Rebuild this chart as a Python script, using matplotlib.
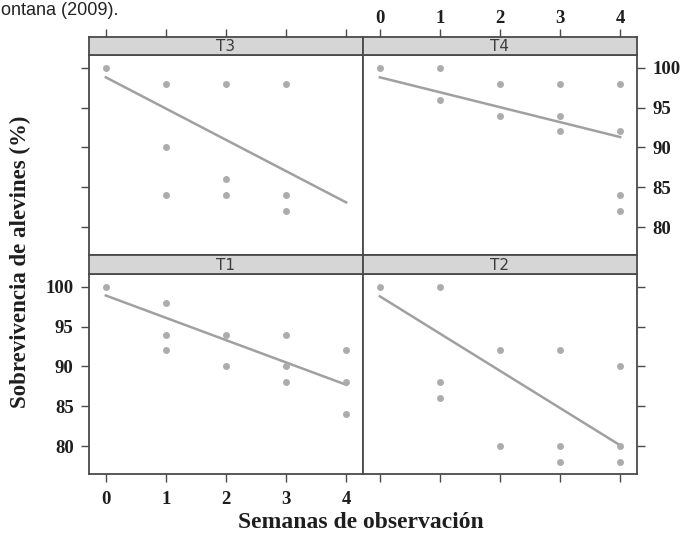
import matplotlib
matplotlib.use('Agg')
import matplotlib.pyplot as plt

plt.rcParams['font.family'] = ['Liberation Serif', 'DejaVu Serif']
plt.rcParams['font.weight'] = 'bold'

# ---- data ----
week_ticks = [0, 1, 2, 3, 4]
surv_ticks = [80, 85, 90, 95, 100]

t1_weeks = [0, 1, 1, 1, 2, 2, 3, 3, 3, 4, 4, 4]
t1_vals = [100, 98, 94, 92, 94, 90, 94, 90, 88, 92, 88, 84]
t2_weeks = [0, 1, 1, 1, 2, 2, 3, 3, 3, 4, 4, 4]
t2_vals = [100, 100, 88, 86, 92, 80, 92, 80, 78, 90, 80, 78]
t3_weeks = [0, 1, 1, 1, 2, 2, 2, 3, 3, 3]
t3_vals = [100, 98, 90, 84, 98, 86, 84, 98, 84, 82]
t4_weeks = [0, 1, 1, 2, 2, 3, 3, 3, 4, 4, 4, 4]
t4_vals = [100, 100, 96, 98, 94, 98, 94, 92, 98, 92, 84, 82]

fit_weeks = [0, 4]
t1_fit = [98.9, 87.7]
t2_fit = [98.8, 80.1]
t3_fit = [98.8, 83.1]
t4_fit = [98.8, 91.3]

W, H = 682, 535
fig = plt.figure(figsize=(W / 100, H / 100), dpi=100)
fig.patch.set_facecolor('white')

edge = '#4a4a4a'
XLIM = (-0.28, 4.28)

def fx(px):
    return px / W

def fy(py):
    return 1 - py / H

cols = [(89, 363), (363, 637)]
rows = [(55, 255, 37), (274, 474, 255)]  # panel top, panel bottom, strip top

layout = [
    ('T3', t3_weeks, t3_vals, t3_fit, 0, 0),
    ('T4', t4_weeks, t4_vals, t4_fit, 0, 1),
    ('T1', t1_weeks, t1_vals, t1_fit, 1, 0),
    ('T2', t2_weeks, t2_vals, t2_fit, 1, 1),
]

for name, wk, vals, fit, r, c in layout:
    x0, x1 = cols[c]
    ptop, pbot, stop = rows[r]
    ax = fig.add_axes([fx(x0), fy(pbot), fx(x1 - x0), (pbot - ptop) / H])
    ax.plot(wk, vals, 'o', color='#acacac', markersize=5.0, markeredgewidth=0, zorder=3)
    ax.plot(fit_weeks, fit, '-', color='#a0a0a0', linewidth=1.8, zorder=2)
    ax.set_xlim(*XLIM)
    ax.set_ylim(76.5, 101.6)
    for s in ax.spines.values():
        s.set_color(edge)
        s.set_linewidth(1.3)

    ax.set_xticks(week_ticks)
    ax.set_yticks(surv_ticks)
    ax.tick_params(axis='both', direction='out', length=6, width=1.0, color=edge,
                   labelsize=13.5, labelcolor='#1e1e1e')
    if r == 0:
        ax.tick_params(axis='x', top=False, bottom=False, labeltop=False, labelbottom=False)
    else:
        ax.tick_params(axis='x', top=False, bottom=True, labeltop=False, labelbottom=(c == 0), pad=6)
    if c == 0:
        ax.tick_params(axis='y', left=True, right=False, labelleft=(r == 1), labelright=False, pad=5)
    else:
        ax.tick_params(axis='y', left=False, right=True, labelleft=False, labelright=(r == 0), pad=5)

    # strip
    sax = fig.add_axes([fx(x0), fy(ptop), fx(x1 - x0), (ptop - stop) / H])
    sax.set_facecolor('#d6d6d6')
    sax.set_xlim(*XLIM)
    sax.set_yticks([])
    for s in sax.spines.values():
        s.set_color(edge)
        s.set_linewidth(1.3)
    if r == 0:
        sax.set_xticks(week_ticks)
        sax.tick_params(axis='x', direction='out', length=6, width=1.0, color=edge,
                        top=True, bottom=False, labeltop=(c == 1), labelbottom=False,
                        labelsize=13.5, labelcolor='#1e1e1e', pad=1)
    else:
        sax.set_xticks([])
    sax.text(0.5, 0.45, name, ha='center', va='center', fontsize=11, fontweight='normal',
             color='#3c3c3c', family='DejaVu Sans', transform=sax.transAxes)

fig.text(fx(361), fy(523), 'Semanas de observación', ha='center', va='center',
         fontsize=17, fontweight='bold', color='#1e1e1e')
fig.text(fx(20), fy(262), 'Sobrevivencia de alevines (%)', ha='center', va='center',
         rotation=90, fontsize=16.5, fontweight='bold', color='#1e1e1e')

# caption fragment at the top of the image
fig.text(fx(1), fy(15), 'ontana (2009).', ha='left', va='baseline',
         fontsize=13, fontweight='normal', family='Liberation Sans', color='#222222')

fig.savefig('out.png', dpi=100, facecolor='white')
